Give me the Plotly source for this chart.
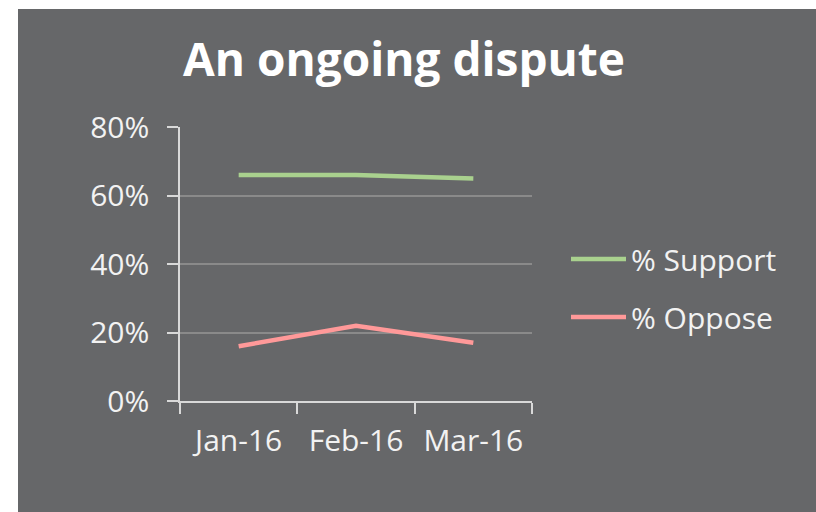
import plotly.graph_objects as go

months = ["Jan-16", "Feb-16", "Mar-16"]
support = [0.66, 0.66, 0.65]
oppose = [0.16, 0.22, 0.17]

bg = "#666769"
txt = "#f2f2f2"
font_fam = "'Open Sans', 'Noto Sans', sans-serif"

fig = go.Figure()
fig.add_trace(go.Scatter(x=months, y=support, name="% Support", mode="lines",
                         line=dict(color="#a9d18e", width=4.5), legendgroup="s"))
fig.add_trace(go.Scatter(x=months, y=oppose, name="% Oppose", mode="lines",
                         line=dict(color="#ff9999", width=4.5), legendgroup="o"))

W, H = 816, 512
L, R, T, B = 180, 532, 127, 401
pw, ph = R - L, B - T

fig.update_layout(
    width=W, height=H,
    margin=dict(l=L, r=W - R, t=T, b=H - B, pad=0),
    paper_bgcolor=bg,
    plot_bgcolor=bg,
    font=dict(family=font_fam, color=txt, size=30),
    title=dict(text="<b>An ongoing dispute</b>", x=404 / W, xanchor="center",
               y=1 - 60 / H, yanchor="middle",
               font=dict(size=46, color="white", family=font_fam)),
    showlegend=True,
    legend=dict(x=(566 - L) / pw, xanchor="left", y=(B - 233) / ph, yanchor="top",
                bgcolor="rgba(0,0,0,0)", font=dict(size=30, color=txt),
                tracegroupgap=16, itemwidth=55),
    # white strips left of and above the grey card
    shapes=[
        dict(type="rect", xref="paper", yref="paper", layer="below",
             x0=(-20 - L) / pw, x1=(18 - L) / pw,
             y0=(B - H - 20) / ph, y1=(B + 20) / ph,
             fillcolor="white", line=dict(width=0)),
        dict(type="rect", xref="paper", yref="paper", layer="below",
             x0=(-20 - L) / pw, x1=(W + 20 - L) / pw,
             y0=(B - 9) / ph, y1=(B + 20) / ph,
             fillcolor="white", line=dict(width=0)),
    ],
)

fig.update_xaxes(
    type="category", range=[-0.5, 2.5],
    tickson="boundaries", ticks="outside", ticklen=11, tickcolor="#d9d9d9", tickwidth=1.5,
    showline=True, linecolor="#d9d9d9", linewidth=1.5,
    showgrid=False, ticklabelstandoff=12,
    tickfont=dict(size=30, color=txt),
)
fig.update_yaxes(
    range=[0, 0.8005], tickvals=[0, 0.2, 0.4, 0.6, 0.8], tickformat=".0%",
    ticks="outside", ticklen=11, tickcolor="#d9d9d9", tickwidth=1.5,
    showline=True, linecolor="#d9d9d9", linewidth=1.5,
    showgrid=True, gridcolor="#8a8a8a", gridwidth=1.5,
    zeroline=False, ticklabelstandoff=12,
    tickfont=dict(size=30, color=txt),
)

fig.write_html("out.html", config={"displayModeBar": False},
               post_script="document.body.style.margin='0';document.body.style.overflow='hidden';")
